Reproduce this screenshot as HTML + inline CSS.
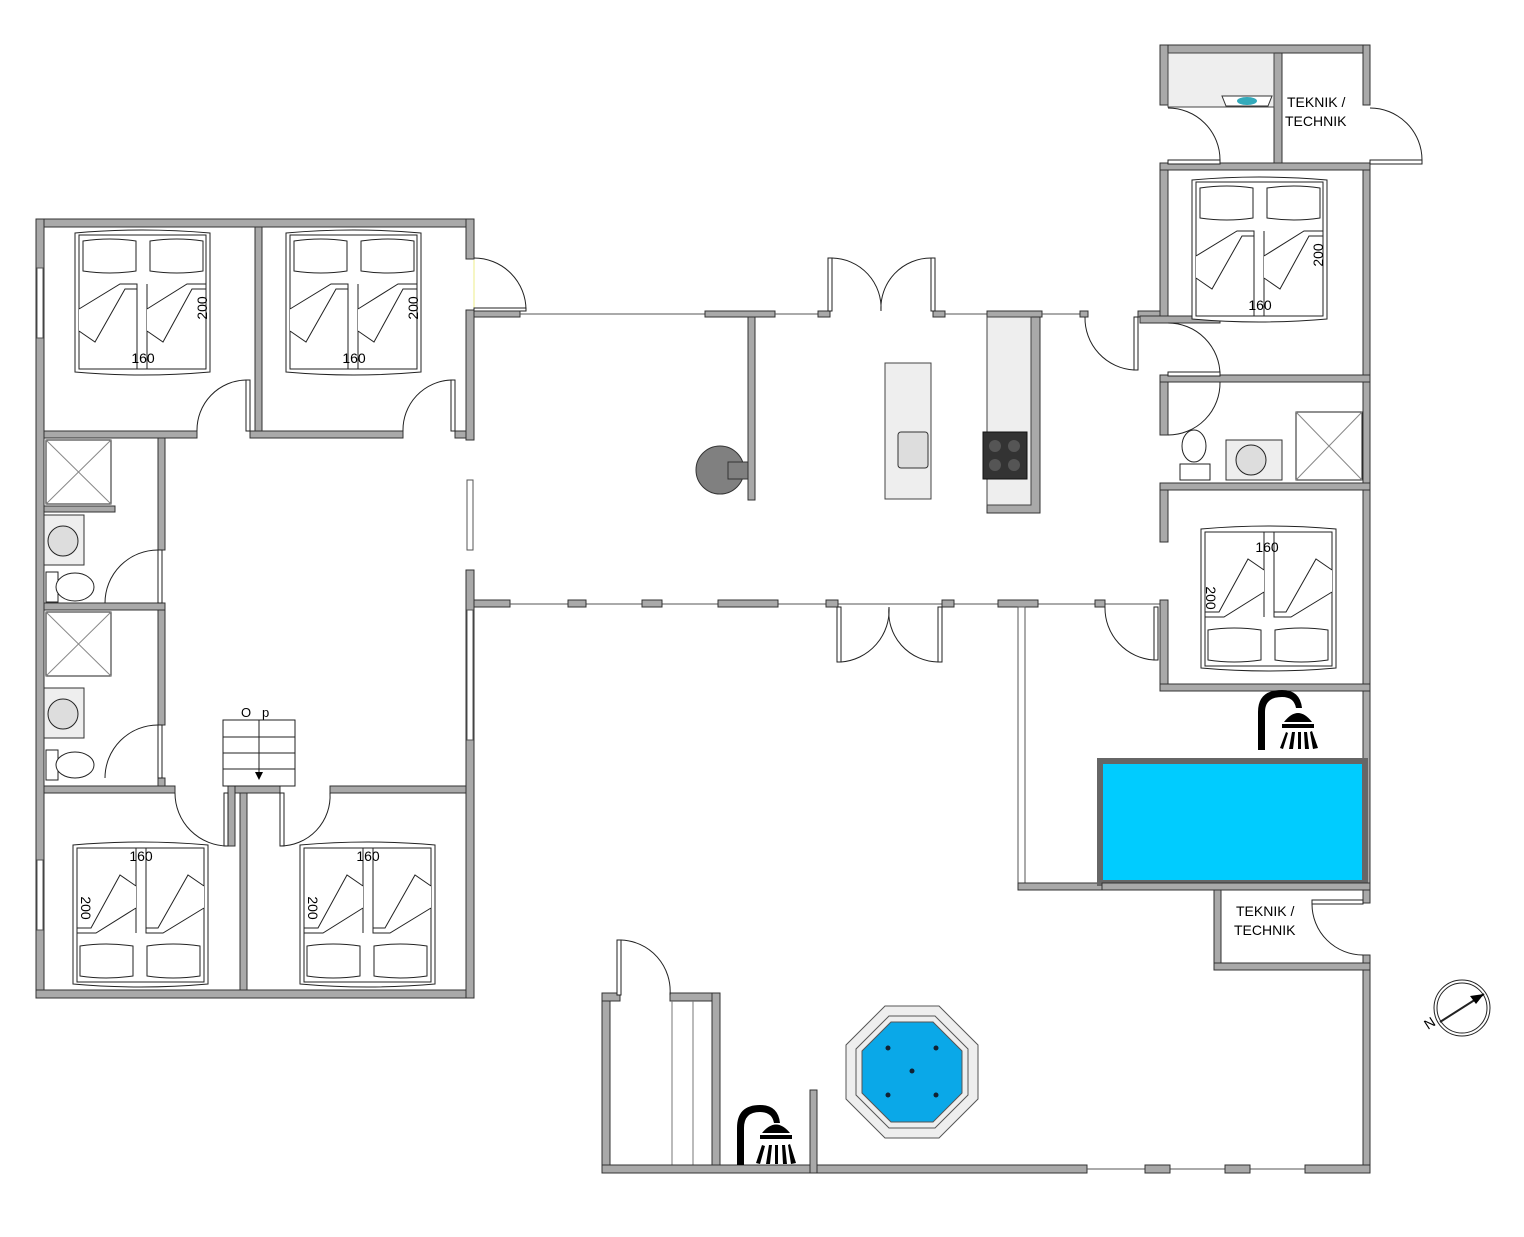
<!DOCTYPE html>
<html><head><meta charset="utf-8"><style>
html,body{margin:0;padding:0;background:#fff;width:1524px;height:1237px;overflow:hidden}
svg{display:block}
text{font-family:"Liberation Sans",sans-serif;fill:#000}
.w{fill:#a9a9a9;stroke:#333;stroke-width:1}
.d{fill:none;stroke:#222;stroke-width:1}
.leaf{fill:#fff;stroke:#222;stroke-width:1}
.win{stroke:#555;stroke-width:1;fill:none}
</style></head><body>
<svg width="1524" height="1237" viewBox="0 0 1524 1237" xmlns="http://www.w3.org/2000/svg">
<defs>
<g id="bed">
 <path d="M0,4 Q67,-2 135,4 L135,143 Q67,149 0,143 Z" fill="#fff" stroke="#222"/>
 <rect x="4" y="6" width="127" height="134" fill="none" stroke="#222"/>
 <path d="M8,12 Q35,8 61,12 L61,42 Q35,46 8,42 Z" fill="#fff" stroke="#222"/>
 <path d="M75,12 Q102,8 128,12 L128,42 Q102,46 75,42 Z" fill="#fff" stroke="#222"/>
 <line x1="62" y1="55" x2="62" y2="140" stroke="#222"/>
 <line x1="72" y1="55" x2="72" y2="140" stroke="#222"/>
 <path d="M4,80 L45,55 L62,55 L62,60 L50,60 L20,113 L4,102" fill="#fff" stroke="#222"/>
 <path d="M72,80 L112,55 L131,55 L131,60 L117,60 L88,113 L72,102" fill="#fff" stroke="#222"/>
</g>
</defs>

<!-- LEFT BLOCK -->
<rect class="w" x="36" y="219" width="438" height="8"/>
<rect class="w" x="36" y="219" width="8" height="779"/>
<rect class="w" x="36" y="990" width="438" height="8"/>
<rect class="w" x="466" y="219" width="8" height="40"/>
<rect class="w" x="466" y="310" width="8" height="130"/>
<rect class="w" x="466" y="570" width="8" height="428"/>
<rect class="w" x="255" y="227" width="7" height="211"/>
<rect class="w" x="44" y="431" width="153" height="7"/>
<rect class="w" x="250" y="431" width="153" height="7"/>
<rect class="w" x="455" y="431" width="11" height="7"/>
<rect class="w" x="158" y="438" width="7" height="112"/>
<rect class="w" x="158" y="603" width="7" height="122"/>
<rect class="w" x="158" y="778" width="7" height="15"/>
<rect class="w" x="44" y="506" width="71" height="6"/>
<rect class="w" x="44" y="603" width="121" height="7"/>
<rect class="w" x="44" y="786" width="131" height="7"/>
<rect class="w" x="228" y="786" width="52" height="7"/>
<rect class="w" x="330" y="786" width="136" height="7"/>
<rect class="w" x="240" y="793" width="7" height="197"/>
<rect class="w" x="228" y="786" width="7" height="60"/>
<!-- left windows -->
<rect x="37" y="268" width="6" height="70" fill="#fff" stroke="#555"/>
<rect x="37" y="860" width="6" height="70" fill="#fff" stroke="#555"/>
<rect x="467" y="480" width="6" height="70" fill="#fff" stroke="#555"/>
<rect x="467" y="610" width="6" height="130" fill="#fff" stroke="#555"/>
<line x1="474" y1="260" x2="474" y2="310" stroke="#ee8" />

<use href="#bed" x="75" y="229"/>
<text x="143" y="363" font-size="14" text-anchor="middle">160</text>
<text transform="translate(207,308) rotate(-90)" font-size="14" text-anchor="middle">200</text>
<use href="#bed" x="286" y="229"/>
<text x="354" y="363" font-size="14" text-anchor="middle">160</text>
<text transform="translate(418,308) rotate(-90)" font-size="14" text-anchor="middle">200</text>
<use href="#bed" transform="translate(208,988) scale(-1,-1)"/>
<text x="141" y="861" font-size="14" text-anchor="middle">160</text>
<text transform="translate(81,908) rotate(90)" font-size="14" text-anchor="middle">200</text>
<use href="#bed" transform="translate(435,988) scale(-1,-1)"/>
<text x="368" y="861" font-size="14" text-anchor="middle">160</text>
<text transform="translate(308,908) rotate(90)" font-size="14" text-anchor="middle">200</text>

<!-- left doors -->
<rect class="leaf" x="246" y="380" width="4" height="51"/><path class="d" d="M246,380 A50,50 0 0 0 197,431"/>
<rect class="leaf" x="451" y="380" width="4" height="51"/><path class="d" d="M451,380 A50,50 0 0 0 403,431"/>
<rect class="leaf" x="474" y="308" width="52" height="3"/><path class="d" d="M474,258 A52,52 0 0 1 526,310"/>
<rect class="leaf" x="158" y="550" width="4" height="53"/><path class="d" d="M158,550 A53,53 0 0 0 105,603"/>
<rect class="leaf" x="158" y="725" width="4" height="53"/><path class="d" d="M158,725 A53,53 0 0 0 105,778"/>
<rect class="leaf" x="224" y="793" width="4" height="53"/><path class="d" d="M175,793 A53,53 0 0 0 228,846"/>
<rect class="leaf" x="280" y="793" width="4" height="53"/><path class="d" d="M330,793 A50,50 0 0 1 280,846"/>
<!-- bathrooms -->
<rect x="46" y="440" width="65" height="64" fill="#fff" stroke="#222"/>
<line x1="46" y1="440" x2="111" y2="504" stroke="#888"/><line x1="111" y1="440" x2="46" y2="504" stroke="#888"/>
<rect x="46" y="612" width="65" height="64" fill="#fff" stroke="#222"/>
<line x1="46" y1="612" x2="111" y2="676" stroke="#888"/><line x1="111" y1="612" x2="46" y2="676" stroke="#888"/>
<rect x="44" y="515" width="40" height="50" fill="#eee" stroke="#333"/><circle cx="63" cy="541" r="15" fill="#ddd" stroke="#222"/>
<rect x="44" y="688" width="40" height="50" fill="#eee" stroke="#333"/><circle cx="63" cy="714" r="15" fill="#ddd" stroke="#222"/>
<rect x="46" y="572" width="12" height="30" fill="#fff" stroke="#222"/><ellipse cx="75" cy="587" rx="19" ry="14" fill="#fff" stroke="#222"/>
<rect x="46" y="750" width="12" height="30" fill="#fff" stroke="#222"/><ellipse cx="75" cy="765" rx="19" ry="13" fill="#fff" stroke="#222"/>
<!-- stairs -->
<rect x="223" y="720" width="72" height="66" fill="#fff" stroke="#222"/>
<line x1="223" y1="737" x2="295" y2="737" stroke="#222"/><line x1="223" y1="753" x2="295" y2="753" stroke="#222"/><line x1="223" y1="769" x2="295" y2="769" stroke="#222"/>
<line x1="259" y1="720" x2="259" y2="777" stroke="#222"/><path d="M255,772 L259,780 L263,772 Z" fill="#000"/>
<text x="241" y="717" font-size="13">O</text><text x="262" y="717" font-size="13">p</text>

<!-- CORRIDOR -->
<rect class="w" x="474" y="311" width="46" height="6"/>
<line class="win" x1="520" y1="314" x2="705" y2="314"/>
<rect class="w" x="705" y="311" width="70" height="6"/>
<rect class="w" x="748" y="317" width="7" height="183"/>
<line class="win" x1="775" y1="314" x2="820" y2="314"/>
<rect class="w" x="818" y="311" width="12" height="6"/>
<rect class="w" x="933" y="311" width="12" height="6"/>
<line class="win" x1="945" y1="314" x2="987" y2="314"/>
<rect class="w" x="987" y="311" width="55" height="6"/>
<line class="win" x1="1042" y1="314" x2="1085" y2="314"/>
<rect class="w" x="1080" y="311" width="8" height="6"/>
<rect class="w" x="1138" y="311" width="24" height="6"/>
<rect class="leaf" x="828" y="258" width="4" height="53"/><path class="d" d="M832,258 A50,50 0 0 1 881,311"/>
<rect class="leaf" x="931" y="258" width="4" height="53"/><path class="d" d="M931,258 A50,50 0 0 0 881,311"/>
<rect class="leaf" x="1134" y="317" width="4" height="53"/><path class="d" d="M1085,317 A52,52 0 0 0 1134,370"/>
<!-- bottom corridor wall -->
<rect class="w" x="474" y="600" width="36" height="7"/>
<line class="win" x1="510" y1="604" x2="1160" y2="604"/>
<rect class="w" x="568" y="600" width="18" height="7"/>
<rect class="w" x="642" y="600" width="20" height="7"/>
<rect class="w" x="718" y="600" width="60" height="7"/>
<rect class="w" x="826" y="600" width="12" height="7"/>
<rect class="w" x="942" y="600" width="12" height="7"/>
<rect class="w" x="998" y="600" width="40" height="7"/>
<rect class="w" x="1095" y="600" width="10" height="7"/>
<rect class="leaf" x="837" y="607" width="4" height="55"/><path class="d" d="M841,662 A52,52 0 0 0 889,607"/>
<rect class="leaf" x="938" y="607" width="4" height="55"/><path class="d" d="M938,662 A50,50 0 0 1 889,607"/>
<rect class="leaf" x="1154" y="607" width="4" height="53"/><path class="d" d="M1105,607 A52,52 0 0 0 1154,660"/>
<!-- kitchen -->
<circle cx="720" cy="470" r="24" fill="#808080" stroke="#333"/>
<rect x="728" y="462" width="20" height="17" fill="#808080" stroke="#333"/>
<rect x="885" y="363" width="46" height="136" fill="#eee" stroke="#444"/>
<rect x="898" y="432" width="30" height="36" rx="3" fill="#ddd" stroke="#333"/>
<rect x="987" y="317" width="53" height="196" fill="#a9a9a9" stroke="#333"/>
<rect x="987" y="317" width="44" height="188" fill="#eee" stroke="#444"/>
<rect x="983" y="432" width="44" height="47" fill="#333" stroke="#111"/>
<circle cx="995" cy="446" r="6" fill="#555"/><circle cx="1014" cy="446" r="6" fill="#555"/><circle cx="995" cy="465" r="6" fill="#555"/><circle cx="1014" cy="465" r="6" fill="#555"/>

<!-- RIGHT BLOCK -->
<rect class="w" x="1160" y="45" width="210" height="8"/>
<rect class="w" x="1160" y="45" width="8" height="60"/>
<rect class="w" x="1160" y="163" width="8" height="160"/>
<rect class="w" x="1160" y="375" width="8" height="60"/>
<rect class="w" x="1160" y="487" width="8" height="55"/>
<rect class="w" x="1160" y="600" width="8" height="90"/>
<rect class="w" x="1363" y="45" width="7" height="60"/>
<rect class="w" x="1363" y="163" width="7" height="740"/>
<rect class="w" x="1363" y="955" width="7" height="218"/>
<rect class="w" x="1274" y="53" width="8" height="114"/>
<rect class="w" x="1160" y="163" width="210" height="7"/>
<rect class="w" x="1140" y="316" width="80" height="7"/>
<rect class="w" x="1160" y="375" width="210" height="7"/>
<rect class="w" x="1160" y="483" width="210" height="7"/>
<rect class="w" x="1160" y="684" width="210" height="7"/>
<rect x="1168" y="53" width="106" height="54" fill="#eee" stroke="#444"/>
<path d="M1222,96 L1272,96 L1268,106 L1226,106 Z" fill="#fff" stroke="#333"/><ellipse cx="1247" cy="101" rx="10" ry="4" fill="#3ab"/>
<text x="1287" y="107" font-size="14">TEKNIK /</text><text x="1285" y="126" font-size="14">TECHNIK</text>
<rect class="leaf" x="1168" y="160" width="52" height="4"/><path class="d" d="M1168,108 A52,52 0 0 1 1220,160"/>
<rect class="leaf" x="1370" y="160" width="52" height="4"/><path class="d" d="M1370,108 A52,52 0 0 1 1422,160"/>
<use href="#bed" x="1192" y="176"/>
<text x="1260" y="310" font-size="14" text-anchor="middle">160</text>
<text transform="translate(1323,255) rotate(-90)" font-size="14" text-anchor="middle">200</text>
<use href="#bed" transform="translate(1336,672) scale(-1,-1)"/>
<text x="1267" y="552" font-size="14" text-anchor="middle">160</text>
<text transform="translate(1206,598) rotate(90)" font-size="14" text-anchor="middle">200</text>
<path class="d" d="M1168,323 A52,52 0 0 1 1220,375"/>
<path class="d" d="M1168,435 A52,52 0 0 0 1220,382"/>
<rect class="leaf" x="1168" y="372" width="52" height="4"/>
<ellipse cx="1194" cy="446" rx="12" ry="16" fill="#fff" stroke="#222"/><rect x="1180" y="464" width="30" height="16" fill="#fff" stroke="#222"/>
<rect x="1226" y="440" width="56" height="40" fill="#eee" stroke="#333"/><circle cx="1251" cy="460" r="15" fill="#ddd" stroke="#222"/>
<rect x="1296" y="412" width="66" height="68" fill="#fff" stroke="#222"/>
<line x1="1296" y1="412" x2="1362" y2="480" stroke="#888"/><line x1="1362" y1="412" x2="1296" y2="480" stroke="#888"/>
<!-- outdoor shower -->
<g fill="#000">
<path d="M1258,750 L1258,712 Q1258,690 1282,690 Q1300,690 1302,708 L1296,708 Q1294,697 1282,697 Q1265,697 1265,712 L1265,750 Z"/>
<path d="M1284,722 Q1298,704 1312,722 Z"/><rect x="1282" y="724" width="32" height="4"/>
<path d="M1280,748 L1286,732 L1288,733 L1283,749Z M1289,749 L1292,732 L1295,732 L1293,749Z M1298,749 L1298,732 L1301,732 L1301,749Z M1305,749 L1304,732 L1307,732 L1309,749Z M1313,749 L1310,732 L1312,731 L1318,748Z"/>
</g>
<!-- pool -->
<rect class="w" x="1018" y="607" width="7" height="283"/>
<rect x="1018" y="607" width="7" height="283" fill="#fff" stroke="#555"/>
<rect class="w" x="1018" y="883" width="84" height="7"/>
<rect x="1100" y="761" width="265" height="122" fill="#00ccff" stroke="#666" stroke-width="6"/>
<rect class="w" x="1214" y="890" width="7" height="80"/>
<rect class="w" x="1214" y="963" width="156" height="7"/>
<rect class="w" x="1102" y="883" width="268" height="7"/>
<text x="1236" y="916" font-size="14">TEKNIK /</text><text x="1234" y="935" font-size="14">TECHNIK</text>
<rect class="leaf" x="1312" y="900" width="51" height="4"/><path class="d" d="M1312,904 A51,51 0 0 0 1363,955"/>
<!-- shed -->
<rect class="w" x="602" y="993" width="8" height="180"/>
<rect class="w" x="602" y="993" width="18" height="8"/>
<rect class="w" x="670" y="993" width="50" height="8"/>
<rect class="w" x="712" y="993" width="8" height="180"/>
<line x1="672" y1="1001" x2="672" y2="1165" stroke="#777"/><line x1="693" y1="1001" x2="693" y2="1165" stroke="#777"/>
<rect class="leaf" x="617" y="940" width="4" height="55"/><path class="d" d="M621,940 A51,51 0 0 1 670,995"/>
<rect class="w" x="602" y="1165" width="485" height="8"/>
<rect class="w" x="1305" y="1165" width="65" height="8"/>
<line class="win" x1="1087" y1="1169" x2="1305" y2="1169"/>
<rect class="w" x="1145" y="1165" width="25" height="8"/>
<rect class="w" x="1225" y="1165" width="25" height="8"/>
<rect class="w" x="810" y="1090" width="7" height="83"/>
<g fill="#000">
<path d="M737,1165 L737,1128 Q737,1105 760,1105 Q778,1105 780,1123 L774,1123 Q772,1112 760,1112 Q744,1112 744,1128 L744,1165 Z"/>
<path d="M762,1133 Q776,1116 790,1133 Z"/><rect x="760" y="1135" width="32" height="4"/>
<path d="M756,1163 L762,1145 L765,1146 L760,1164Z M766,1164 L769,1145 L772,1145 L770,1164Z M775,1164 L775,1145 L778,1145 L778,1164Z M783,1164 L782,1145 L785,1145 L787,1164Z M791,1164 L788,1145 L790,1144 L796,1163Z"/>
</g>
<!-- hot tub -->
<polygon points="885,1006 939,1006 978,1045 978,1099 939,1138 885,1138 846,1099 846,1045" fill="#eee" stroke="#555"/>
<polygon points="889,1016 935,1016 968,1049 968,1095 935,1128 889,1128 856,1095 856,1049" fill="#eee" stroke="#555"/>
<polygon points="891,1022 933,1022 962,1051 962,1093 933,1122 891,1122 862,1093 862,1051" fill="#0aa8e8" stroke="#555"/>
<g fill="#123"><circle cx="888" cy="1048" r="2.5"/><circle cx="936" cy="1048" r="2.5"/><circle cx="912" cy="1071" r="2.5"/><circle cx="888" cy="1095" r="2.5"/><circle cx="936" cy="1095" r="2.5"/></g>
<!-- compass -->
<circle cx="1462" cy="1008" r="28" fill="#fff" stroke="#222"/>
<circle cx="1462" cy="1008" r="25" fill="none" stroke="#222"/>
<line x1="1440" y1="1022" x2="1484" y2="994" stroke="#222" stroke-width="2"/>
<path d="M1484,994 L1470,996 L1476,1004 Z" fill="#000"/>
<text transform="translate(1428,1030) rotate(-33)" font-size="14">N</text>
</svg>
</body></html>
